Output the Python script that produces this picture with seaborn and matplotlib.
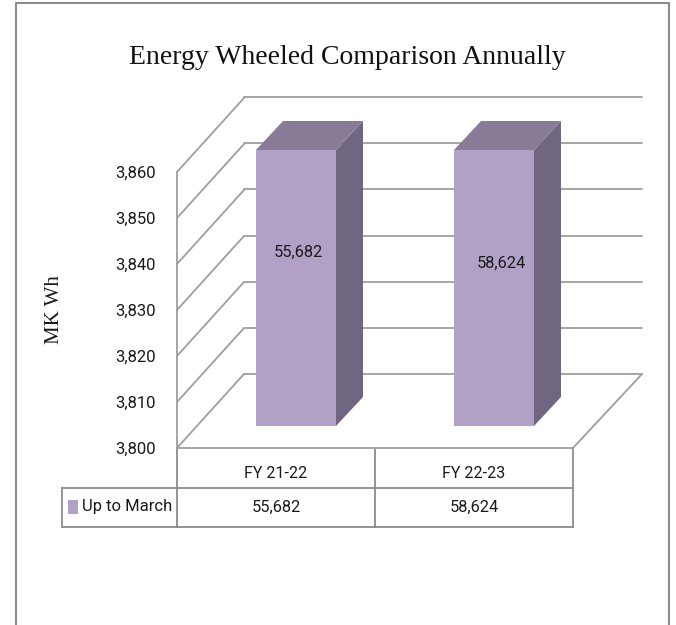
import matplotlib
matplotlib.use("Agg")
import matplotlib.pyplot as plt
import seaborn as sns
import pandas as pd
from matplotlib.patches import Polygon, Rectangle

categories = ["FY 21-22", "FY 22-23"]
series_name = "Up to March"
values = [55682, 58624]
y_ticks = [3800, 3810, 3820, 3830, 3840, 3850, 3860]
title = "Energy Wheeled Comparison Annually"
y_label = "MK Wh"

W, H = 676, 625
C_FRONT, C_TOP, C_SIDE = "#B2A1C7", "#877B96", "#716682"
C_GRID, C_BORDER, C_TEXT = "#9E9E9E", "#8C8C8C", "#1A1A1A"
LW = 1.3
SANS = "Roboto"
SERIF = "Liberation Serif"

sns.set_theme(style="white")
fig = plt.figure(figsize=(W / 100, H / 100), dpi=100, facecolor="white")


def axes_px(x0, y0, x1, y1, **kw):
    """Axes from pixel box, y measured from the top of the image."""
    return fig.add_axes([x0 / W, 1 - y1 / H, (x1 - x0) / W, (y1 - y0) / H], **kw)


df = pd.DataFrame({"period": categories, "value": values})
ymin, ymax = y_ticks[0], y_ticks[-1]

# canvas for frame and data table
canvas = axes_px(0, 0, W, H, zorder=0)
canvas.set_xlim(0, W)
canvas.set_ylim(H, 0)
canvas.axis("off")
canvas.plot([15.5, 15.5, 668.5, 668.5], [H, 3, 3, H], color=C_BORDER, lw=1.5)

# back wall plane
back = axes_px(244, 97, 642, 374, zorder=1)
back.set_xlim(-0.5, 1.5)
back.set_ylim(ymin, ymax)
back.patch.set_alpha(0)
back.set_yticks(y_ticks)
back.set_xticks([])
back.tick_params(left=False, labelleft=False)
back.grid(axis="y", color=C_GRID, lw=LW)
for s in back.spines.values():
    s.set_visible(False)
for ln in back.get_ygridlines():
    ln.set_clip_on(False)

# front plane: value axis + floor edge
front = axes_px(177, 172, 573, 448, zorder=2)
front.set_xlim(-0.5, 1.5)
front.set_ylim(ymin, ymax)
front.patch.set_alpha(0)
front.set_xticks([])
front.set_yticks(y_ticks)
front.set_yticklabels([f"{t:,}" for t in y_ticks], family=SANS, fontsize=12, color=C_TEXT)
front.tick_params(axis="y", left=False, length=0, pad=15)
for side in ["top", "right"]:
    front.spines[side].set_visible(False)
for side in ["left", "bottom"]:
    front.spines[side].set_color(C_GRID)
    front.spines[side].set_linewidth(LW)
depth_x = 67 / 198
depth_y = 74 / 4.6
for t in y_ticks:
    front.plot([-0.5, -0.5 + depth_x], [t, t + depth_y], color=C_GRID, lw=LW, clip_on=False)
front.plot([1.5, 1.5 + 69 / 198], [ymin, ymin + depth_y], color=C_GRID, lw=LW, clip_on=False)
fig.text(54 / W, 1 - 310 / H, y_label, rotation=90, family=SERIF, fontsize=15,
         color=C_TEXT, ha="center", va="center")

# bars plane (inside the floor)
bars = axes_px(197, 150, 593, 426, zorder=3)
sns.barplot(data=df, x="period", y="value", ax=bars, color=C_FRONT, saturation=1, width=0.404, linewidth=0)
bars.set_xlim(-0.5, 1.5)
bars.set_ylim(ymin, ymax)
bars.patch.set_alpha(0)
bars.set_xticks([])
bars.set_yticks([])
bars.set_xlabel("")
bars.set_ylabel("")
for s in bars.spines.values():
    s.set_visible(False)
bar_dx = 27 / 198
bar_dy = 29 / 4.6
label_nudge_x = [2 / 198, 7 / 198]
label_heights = [0.63, 0.59]
for patch, val, nx, ly in zip(bars.patches, values, label_nudge_x, label_heights):
    x0, x1 = patch.get_x(), patch.get_x() + patch.get_width()
    top = min(val, ymax)
    bars.add_patch(Polygon([(x1, ymin), (x1, top), (x1 + bar_dx, top + bar_dy), (x1 + bar_dx, ymin + bar_dy)],
                           closed=True, fc=C_SIDE, ec="none", clip_on=False))
    bars.add_patch(Polygon([(x0, top), (x1, top), (x1 + bar_dx, top + bar_dy), (x0 + bar_dx, top + bar_dy)],
                           closed=True, fc=C_TOP, ec="none", clip_on=False))
    bars.text((x0 + x1) / 2 + nx, ymin + ly * (ymax - ymin), f"{val:,}", family=SANS, fontsize=11.8,
              color=C_TEXT, ha="center", va="center")

# title
canvas.text(347.5, 58, title, family=SERIF, fontsize=20, color="#111111", ha="center", va="center")

# data table
tx = [177, 375, 573]
lines = [([177, 177], [448, 527]), ([375, 375], [449, 527]), ([573, 573], [449, 527]),
         ([62, 573], [488, 488]), ([62, 573], [527, 527]), ([62, 62], [488, 527])]
for xs, ys in lines:
    canvas.plot(xs, ys, color=C_BORDER, lw=1.3, solid_capstyle="projecting")
for i, (c, v) in enumerate(zip(categories, values)):
    cx = (tx[i] + tx[i + 1]) / 2
    canvas.text(cx, 473, c, family=SANS, fontsize=11.5, color=C_TEXT, ha="center", va="center")
    canvas.text(cx, 507, f"{v:,}", family=SANS, fontsize=11.8, color=C_TEXT, ha="center", va="center")
canvas.add_patch(Rectangle((68, 500), 10, 14, fc=C_FRONT, ec="none"))
canvas.text(82.5, 506, series_name, family=SANS, fontsize=12, color=C_TEXT, ha="left", va="center")

fig.savefig("out.png", dpi=100)
